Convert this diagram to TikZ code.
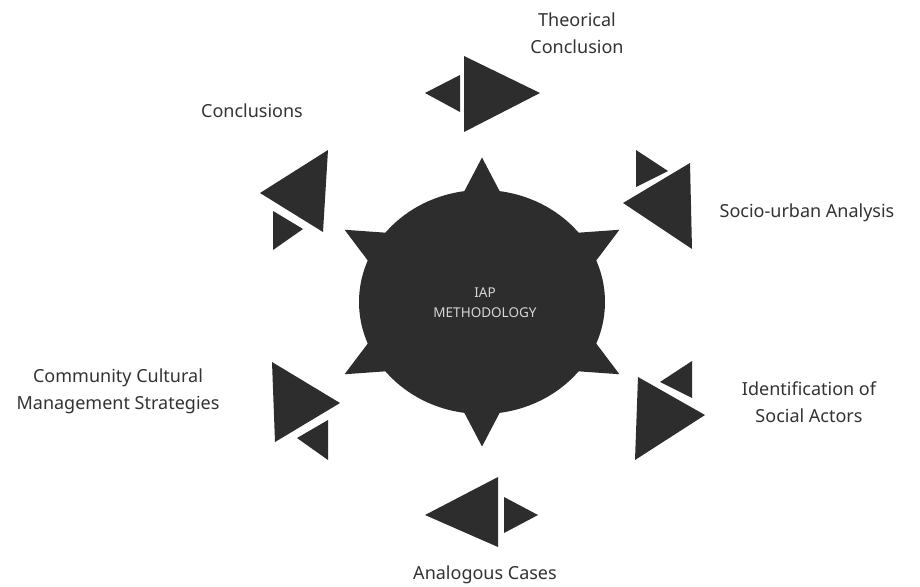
\documentclass[tikz,border=0pt]{standalone}
\usepackage{fontspec}
\setmainfont{Noto Sans}
\definecolor{darkfill}{HTML}{2D2D2D}
\definecolor{labelgray}{HTML}{333333}
\definecolor{innergray}{HTML}{D6D6D6}
\begin{document}
\begin{tikzpicture}[x=1pt,y=-1pt,
  lbl/.style={text=labelgray, font=\fontsize{18}{27}\selectfont, align=center, inner sep=0pt},
  tri/.style={fill=darkfill, draw=none}]
\useasboundingbox[fill=white] (0,0) rectangle (920,586);

% central spiked disc
\fill[darkfill] (482,302) ellipse [x radius=123, y radius=112];
\begin{scope}[shift={(482,302)}, x=123pt, y=-112pt]
  \foreach \a in {90,150,210,270,330,390}{
    \fill[darkfill] ({1.29*cos(\a)},{1.29*sin(\a)})
      -- ({0.85*cos(\a)+0.21*cos(\a+90)},{0.85*sin(\a)+0.21*sin(\a+90)})
      -- ({0.85*cos(\a)-0.21*cos(\a+90)},{0.85*sin(\a)-0.21*sin(\a+90)}) -- cycle;
  }
\end{scope}
\node[text=innergray, font=\fontsize{13.5}{20}\selectfont, align=center, inner sep=0pt] (c) at (485,303) {IAP\\METHODOLOGY};

% top pair
\fill[tri] (425,93) -- (460,75) -- (460,112) -- cycle;
\fill[tri] (464,56) -- (464,132) -- (540,93) -- cycle;
% upper right pair
\fill[tri] (636,150) -- (636,187) -- (668,171) -- cycle;
\fill[tri] (623,203) -- (690,163) -- (692,249) -- cycle;
% lower right pair
\fill[tri] (692,361) -- (660,382) -- (692,398) -- cycle;
\fill[tri] (638,377) -- (705,415) -- (635,460) -- cycle;
% bottom pair
\fill[tri] (425,515) -- (498,477) -- (498,547) -- cycle;
\fill[tri] (504,497) -- (504,533) -- (538,515) -- cycle;
% upper left pair
\fill[tri] (328,150) -- (260,193) -- (323,232) -- cycle;
\fill[tri] (273,211) -- (273,250) -- (303,229) -- cycle;
% lower left pair
\fill[tri] (272,362) -- (340,403) -- (275,442) -- cycle;
\fill[tri] (297,438) -- (328,420) -- (328,460) -- cycle;

% labels
\node[lbl] (theo) at (577,33) {Theorical\\Conclusion};
\node[lbl] (concl) at (252,111) {Conclusions};
\node[lbl] (socio) at (807,213) {Socio-urban Analysis};
\node[lbl] (ident) at (809,402) {Identification of\\Social Actors};
\node[lbl] (comm) at (118,391) {Community Cultural\\Management Strategies};
\node[lbl] (anal) at (485,575) {Analogous Cases};
\end{tikzpicture}
\end{document}
